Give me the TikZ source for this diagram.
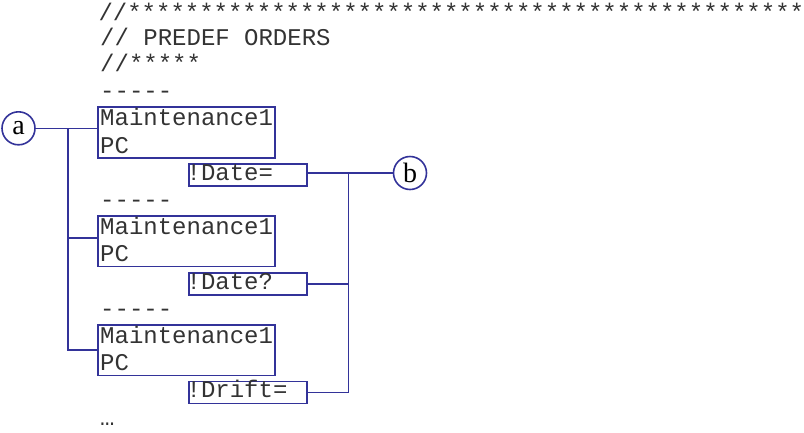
\documentclass[tikz,border=0pt]{standalone}
\usepackage{fontspec}
\newfontfamily\codefont{Liberation Mono}
\newfontfamily\tagfont{Liberation Serif}
\usepackage{tikz}
\definecolor{linkblue}{RGB}{51,51,153}
\tikzstyle{codeline} = [anchor=base west, inner sep=0pt, text=black!80, font=\codefont\fontsize{24pt}{27pt}\selectfont]
\tikzstyle{orderbox} = [rectangle, anchor=north west, minimum width=177pt, minimum height=50.7pt, inner sep=0pt, draw=linkblue, line width=1.6pt]
\tikzstyle{cmdbox} = [rectangle, anchor=north west, minimum width=117.7pt, minimum height=22pt, inner sep=0pt, draw=linkblue, line width=1.6pt]
\tikzstyle{tag} = [circle, minimum size=33pt, inner sep=0pt, draw=linkblue, line width=1.6pt, font=\tagfont\fontsize{28pt}{30pt}\selectfont]
\tikzstyle{link} = [draw=linkblue, line width=1.6pt]

\begin{document}
\begin{tikzpicture}[x=1pt, y=-1pt]
    \useasboundingbox (0,0) rectangle (804,432);

    % header
    \node (head1) [codeline] at (98.3,20) {//***********************************************};
    \node (head2) [codeline] at (100,45) {// PREDEF ORDERS};
    \node (head3) [codeline] at (100,71.4) {//*****};

    % first order
    \node (sep1) [codeline] at (100,98.6) {-----};
    \node (order1) [orderbox] at (97,106.3) {};
    \node (name1) [codeline] at (100,125.8) {Maintenance1};
    \node (pc1) [codeline] at (100,153) {PC};
    \node (cmd1) [cmdbox] at (188.3,163.2) {};
    \node (cmdtext1) [codeline] at (186.4,180.2) {!Date=};

    % second order
    \node (sep2) [codeline] at (100,207.4) {-----};
    \node (order2) [orderbox] at (97,215.1) {};
    \node (name2) [codeline] at (100,234.6) {Maintenance1};
    \node (pc2) [codeline] at (100,261.8) {PC};
    \node (cmd2) [cmdbox] at (188.3,272) {};
    \node (cmdtext2) [codeline] at (186.4,289) {!Date?};

    % third order
    \node (sep3) [codeline] at (100,316.2) {-----};
    \node (order3) [orderbox] at (97,323.9) {};
    \node (name3) [codeline] at (100,343.4) {Maintenance1};
    \node (pc3) [codeline] at (100,370.6) {PC};
    \node (cmd3) [cmdbox] at (188.3,380.8) {};
    \node (cmdtext3) [codeline] at (186.4,397.8) {!Drift=};
    \node (more) [codeline] at (100,425) {…};

    \node (tagA) [tag] at (18.5,128.3) {a};
    \node (tagB) [tag] at (410,173) {b};

    \coordinate (forkA) at (68,0);
    \coordinate (forkB) at (348.5,0);

    \draw [link] (tagA) -- (tagA -| order1.west);
    \draw [link] (forkA |- tagA) -- (forkA |- order3.west) -- (order3.west);
    \draw [link] ([yshift=3pt]forkA |- order2.west) -- ([yshift=3pt]order2.west);

    \draw [link] (tagB -| cmd1.east) -- (tagB);
    \draw [link] (forkB |- tagB) -- (forkB |- cmd3.east) -- (cmd3.east);
    \draw [link] (cmd2.east) -- (forkB |- cmd2.east);

\end{tikzpicture}
\end{document}
